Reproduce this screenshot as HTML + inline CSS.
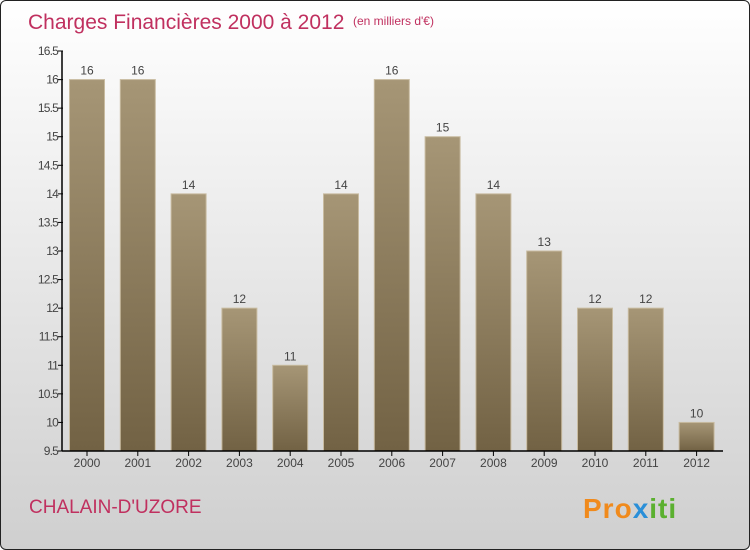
<!DOCTYPE html>
<html><head><meta charset="utf-8"><style>
body{margin:0;width:750px;height:550px;overflow:hidden;font-family:"Liberation Sans",sans-serif}
#wrap{position:absolute;left:0;top:0;width:748px;height:548px;border:1px solid #222;border-radius:6px;background:linear-gradient(#ffffff,#cfcfcf);overflow:hidden}
</style></head><body>
<div id="wrap">
<svg width="750" height="550" id="svg">
<defs><linearGradient id="bg" x1="0" y1="0" x2="0" y2="1"><stop offset="0" stop-color="#a69676"/><stop offset="1" stop-color="#726244"/></linearGradient></defs>
<text x="27" y="28" font-size="21" fill="#c0305f">Charges Financières 2000 à 2012</text>
<text x="352" y="24" font-size="12" fill="#c0305f">(en milliers d'€)</text>
<text x="28" y="512" font-size="19" fill="#c0305f">CHALAIN-D'UZORE</text>
<text x="582" y="517" font-size="28" font-weight="bold" fill="#f08a1c" letter-spacing="1">Pro<tspan fill="#2a8fd8">x</tspan><tspan fill="#5bb030">iti</tspan></text>
<g id="plot"></g>
</svg></div>
<script>
const years=["2000","2001","2002","2003","2004","2005","2006","2007","2008","2009","2010","2011","2012"];
const values=[16,16,14,12,11,14,16,15,14,13,12,12,10];
const yTicks=[9.5,10,10.5,11,11.5,12,12.5,13,13.5,14,14.5,15,15.5,16,16.5];
const ns="http://www.w3.org/2000/svg";
const g=document.getElementById('plot');
const y=v=>450-(v-9.5)*400/7;
const x=i=>86+i*50.8;
function mk(t,a){const e=document.createElementNS(ns,t);for(const k in a)e.setAttribute(k,a[k]);g.appendChild(e);return e;}
years.forEach((yr,i)=>{
 const r=mk('rect',{x:x(i)-17.5,y:y(values[i]),width:35,height:450-y(values[i]),fill:'url(#bg)',stroke:'#c8bba0','stroke-width':1});
 
 
 const t=mk('text',{x:x(i),y:y(values[i])-5,'text-anchor':'middle','font-size':12,fill:'#444'});
 t.textContent=values[i];
 
 
 const tk=mk('line',{x1:x(i),x2:x(i),y1:450,y2:455,stroke:'#000'});
 
 
 const l=mk('text',{x:x(i),y:466,'text-anchor':'middle','font-size':12,fill:'#444'});
 l.textContent=yr;
 
 
});
yTicks.forEach(v=>{
 const tk=mk('line',{x1:57,x2:62,y1:y(v),y2:y(v),stroke:'#000'});
 
 
 const l=mk('text',{x:57,y:y(v)+4,'text-anchor':'end','font-size':12,fill:'#444','letter-spacing':'-0.8'});
 l.textContent=v;
 
 
});
const ya=mk('line',{x1:61,x2:61,y1:50,y2:450,stroke:'#000','stroke-width':1.5});


const xa=mk('line',{x1:61,x2:722,y1:450,y2:450,stroke:'#000','stroke-width':1.5});


</script>
</body></html>
